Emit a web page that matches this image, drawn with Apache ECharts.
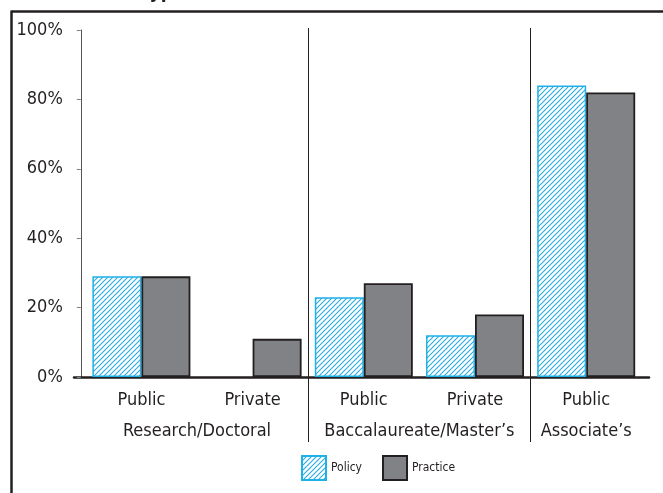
<!DOCTYPE html>
<html>
<head>
<meta charset="utf-8">
<script src="https://cdn.jsdelivr.net/npm/echarts@6/dist/echarts.min.js"></script>
<style>
  html, body { margin: 0; padding: 0; background: #fff; }
  #chart { width: 663px; height: 493px; }
</style>
</head>
<body>
<div id="chart"></div>
<script>
// chart data
var categories = ['Public', 'Private', 'Public', 'Private', 'Public']
var groups = ['Research/Doctoral', 'Baccalaureate/Master\u2019s', 'Associate\u2019s']
var groupSlots = [2, 6, 9] // half-category positions of the group labels
var dividerSlots = [4, 8] // half-category positions of the group dividers
var policy = [29, null, 23, 12, 84]
var practice = [29, 11, 27, 18, 82]
var yTicks = [0, 20, 40, 60, 80, 100]

var font = '"DejaVu Sans Condensed", "Liberation Sans Narrow", sans-serif'
var ink = '#231f20'

// hatch pattern for the Policy bars
function hatch() {
  var c = document.createElement('canvas')
  c.width = 5
  c.height = 5
  var ctx = c.getContext('2d')
  ctx.fillStyle = '#fff'
  ctx.fillRect(0, 0, 5, 5)
  ctx.strokeStyle = '#29abe2'
  ctx.lineWidth = 1.1
  ctx.beginPath()
  ctx.moveTo(-1, 6); ctx.lineTo(6, -1)
  ctx.moveTo(-1, 1); ctx.lineTo(1, -1)
  ctx.moveTo(4, 6); ctx.lineTo(6, 4)
  ctx.stroke()
  return c
}

// 11 half-category slots, used for the group labels and dividers
var slots = []
for (var i = 0; i <= categories.length * 2; i++) slots.push('')
var groupData = slots.slice()
groups.forEach(function(g, k) { groupData[groupSlots[k]] = g })

var chart = echarts.init(document.getElementById('chart'))
chart.setOption({
  animation: false,
  textStyle: { fontFamily: font },
  grid: [
    { left: 85.8, right: 21.2, top: 30, bottom: 116 },
    { left: 74, right: 14, top: 30, bottom: 116 }
  ],
  legend: {
    left: 296,
    bottom: 7,
    itemWidth: 24,
    itemHeight: 24,
    itemGap: 20,
    icon: 'rect',
    textStyle: { fontFamily: font, fontSize: 12, color: ink },
    data: ['Policy', 'Practice']
  },
  graphic: [
    { type: 'line', shape: { x1: 11.5, y1: 11.5, x2: 663, y2: 11.5 }, style: { stroke: ink, lineWidth: 2.5 } },
    { type: 'line', shape: { x1: 11.5, y1: 10.5, x2: 11.5, y2: 493 }, style: { stroke: ink, lineWidth: 2.5 } },
    { type: 'text', left: 17, top: -16, style: { text: 'Institutional type', font: 'bold 19px ' + font, fill: ink } }
  ],
  xAxis: [
    {
      type: 'category',
      gridIndex: 0,
      data: categories,
      axisLine: { show: false },
      axisTick: { show: false },
      axisLabel: { interval: 0, margin: 14, fontSize: 18, color: ink, fontFamily: font }
    },
    {
      type: 'category',
      gridIndex: 0,
      position: 'bottom',
      boundaryGap: false,
      data: groupData,
      axisLine: { show: false },
      axisTick: { show: false },
      axisLabel: { interval: 0, margin: 45, fontSize: 18, color: ink, fontFamily: font }
    },
    {
      type: 'category',
      gridIndex: 0,
      position: 'top',
      offset: 2,
      boundaryGap: false,
      data: slots,
      axisLine: { show: false },
      axisLabel: { show: false },
      axisTick: {
        show: true,
        inside: true,
        length: 414,
        interval: function(index) { return dividerSlots.indexOf(index) >= 0 },
        lineStyle: { color: ink, width: 1 }
      }
    },
    {
      type: 'value',
      gridIndex: 1,
      min: 0,
      max: 1,
      axisLine: { show: true, lineStyle: { color: ink, width: 2.5 } },
      axisTick: { show: false },
      axisLabel: { show: false },
      splitLine: { show: false }
    }
  ],
  yAxis: [
    {
      type: 'value',
      gridIndex: 0,
      min: yTicks[0],
      max: yTicks[yTicks.length - 1],
      interval: yTicks[1] - yTicks[0],
      offset: 5,
      axisLine: { show: true, lineStyle: { color: '#555', width: 1 } },
      axisTick: { show: true, length: 4, lineStyle: { color: '#808080' } },
      axisLabel: { formatter: '{value}%', margin: 18, fontSize: 18, color: ink, fontFamily: font },
      splitLine: { show: false }
    },
    { type: 'value', gridIndex: 1, show: false }
  ],
  series: [
    {
      name: 'Policy',
      type: 'bar',
      xAxisIndex: 0,
      yAxisIndex: 0,
      barWidth: 49,
      barGap: '0%',
      data: policy,
      itemStyle: {
        color: { image: hatch(), repeat: 'repeat' },
        borderColor: '#1fb0e6',
        borderWidth: 1.5
      }
    },
    {
      name: 'Practice',
      type: 'bar',
      xAxisIndex: 0,
      yAxisIndex: 0,
      barWidth: 49,
      barGap: '0%',
      data: practice,
      itemStyle: {
        color: '#808285',
        borderColor: ink,
        borderWidth: 1.8
      }
    }
  ]
})
</script>
</body>
</html>
